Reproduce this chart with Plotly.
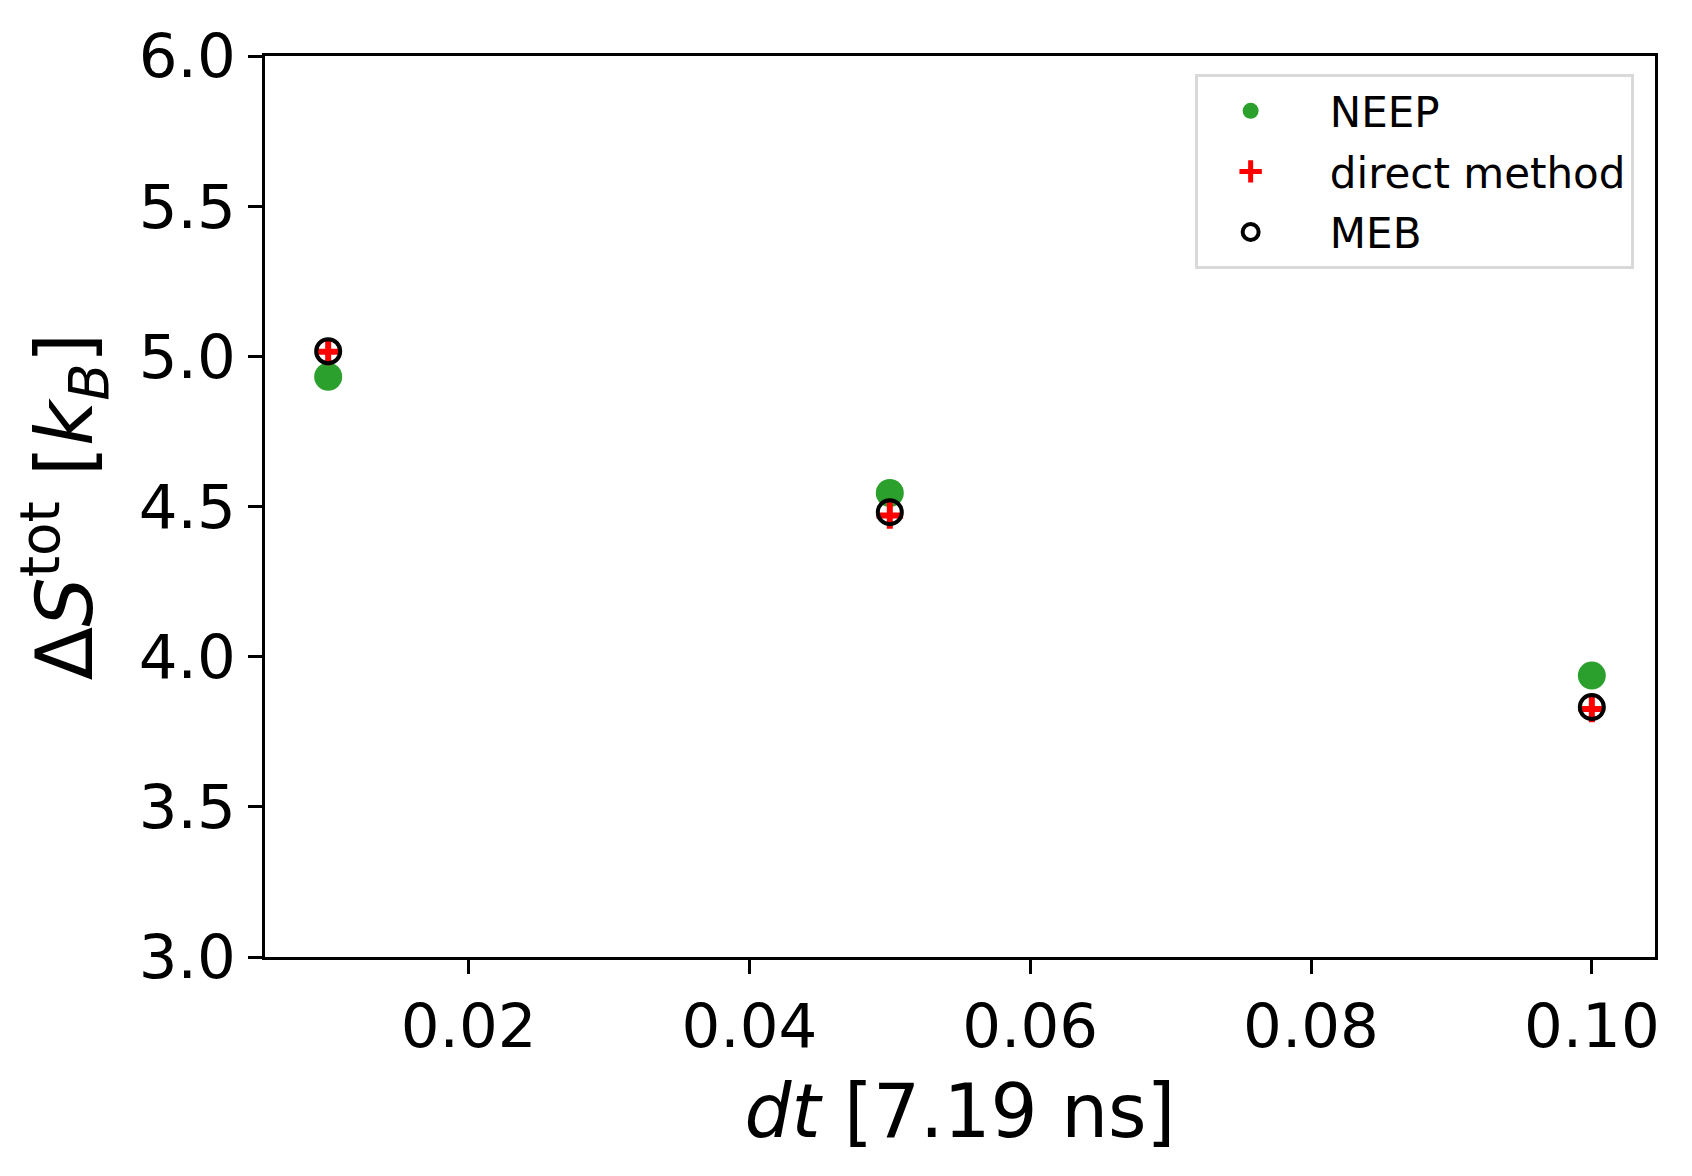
import plotly.graph_objects as go

# dt values and entropy estimates
dt = [0.01, 0.05, 0.10]
neep = [4.932, 4.545, 3.937]
direct_method = [5.015, 4.470, 3.826]
meb = [5.017, 4.481, 3.832]

pad = "\u00a0\u00a0"  # extra gap between legend symbol and label

fig = go.Figure()

fig.add_trace(go.Scatter(
    x=dt, y=neep, mode="markers", name=pad + "NEEP", legendgroup="a",
    marker=dict(symbol="circle", size=28, color="#2ca02c", line=dict(width=0))
))
fig.add_trace(go.Scatter(
    x=dt, y=direct_method, mode="markers", name=pad + "direct method", legendgroup="b",
    marker=dict(symbol="cross-thin", size=19, color="red", line=dict(width=6, color="red"))
))
fig.add_trace(go.Scatter(
    x=dt, y=meb, mode="markers", name=pad + "MEB", legendgroup="c",
    marker=dict(symbol="circle-open", size=24, color="black", line=dict(width=4, color="black"))
))

axis_common = dict(
    showline=True, linecolor="black", linewidth=3, mirror=True,
    ticks="outside", ticklen=14, tickwidth=3, tickcolor="black",
    showgrid=False, zeroline=False,
    tickfont=dict(size=61, color="black"),
)

fig.update_layout(
    width=1692, height=1176,
    paper_bgcolor="white", plot_bgcolor="white",
    font=dict(family="DejaVu Sans", color="black"),
    margin=dict(l=257, r=45, t=44, b=227),
    showlegend=True,
    legend=dict(
        x=0.985, y=0.98, xanchor="right", yanchor="top",
        bordercolor="#d9d9d9", borderwidth=3, bgcolor="white",
        font=dict(size=42, color="black"),
        itemwidth=95,
        tracegroupgap=3,
    ),
    xaxis=dict(
        axis_common,
        range=[0.0055, 0.1045],
        tickvals=[0.02, 0.04, 0.06, 0.08, 0.10],
        tickformat=".2f",
        title=dict(text="<i>dt</i> [7.19 ns]", font=dict(size=74), standoff=25),
    ),
    yaxis=dict(
        axis_common,
        range=[3.0, 6.0],
        tickvals=[3.0, 3.5, 4.0, 4.5, 5.0, 5.5, 6.0],
        tickformat=".1f",
        title=dict(text="Δ<i>S</i><sup>tot</sup> [<i>k</i><sub><i>B</i></sub>]",
                   font=dict(size=78), standoff=28),
    ),
)

fig.write_html("out.html")
